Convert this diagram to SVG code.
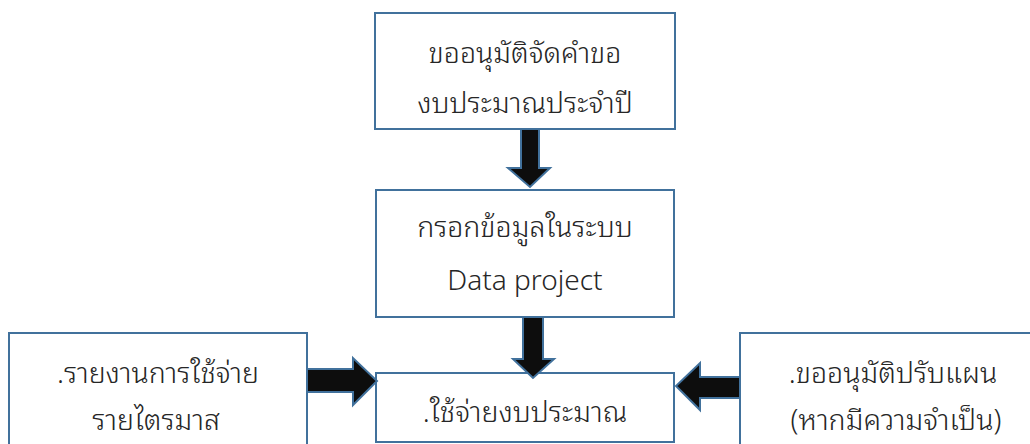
<svg xmlns="http://www.w3.org/2000/svg" width="1030" height="444" viewBox="0 0 1030 444">
<style>
.box{fill:#fff;stroke:#41719c;stroke-width:2}
.arr{fill:#0d0d0d;stroke:#41719c;stroke-width:2;stroke-linejoin:miter}
text{font-family:"Noto Sans Thai Looped","Noto Sans Thai","Noto Sans","DejaVu Sans",sans-serif;font-size:28.5px;font-weight:300;fill:#262626;text-anchor:middle}
.lat{font-size:28px}
</style>
<rect width="1030" height="444" fill="#fff"/>
<g id="n1"><rect class="box" x="375" y="13" width="300" height="116"/>
<text x="525" y="63">ขออนุมัติจัดคำขอ</text><text x="525" y="113">งบประมาณประจำปี</text></g>
<g id="n2"><rect class="box" x="376" y="190" width="298" height="127"/>
<text x="525" y="237">กรอกข้อมูลในระบบ</text><text class="lat" x="525" y="290">Data project</text></g>
<g id="n3"><rect class="box" x="376" y="373" width="298" height="69"/>
<text x="525" y="422">.ใช้จ่ายงบประมาณ</text></g>
<g id="n4"><rect class="box" x="9" y="333" width="298" height="120"/>
<text x="158" y="383">.รายงานการใช้จ่าย</text><text x="156" y="430">รายไตรมาส</text></g>
<g id="n5"><rect class="box" x="740" y="333" width="300" height="120"/>
<text x="893" y="383">.ขออนุมัติปรับแผน</text><text x="896" y="430">(หากมีความจำเป็น)</text></g>
<g id="connectors">
<polygon class="arr" points="521,129 539,129 539,168 550,168 530,187 508,168 521,168"/>
<polygon class="arr" points="523,317 543,317 543,359 554,359 533,378 513,359 523,359"/>
<polygon class="arr" points="307,369 353,369 353,358 377,381 353,405 353,392 307,392"/>
<polygon class="arr" points="740,377 700,377 700,363 676,386 700,410 700,398 740,398"/>
</g>
</svg>
